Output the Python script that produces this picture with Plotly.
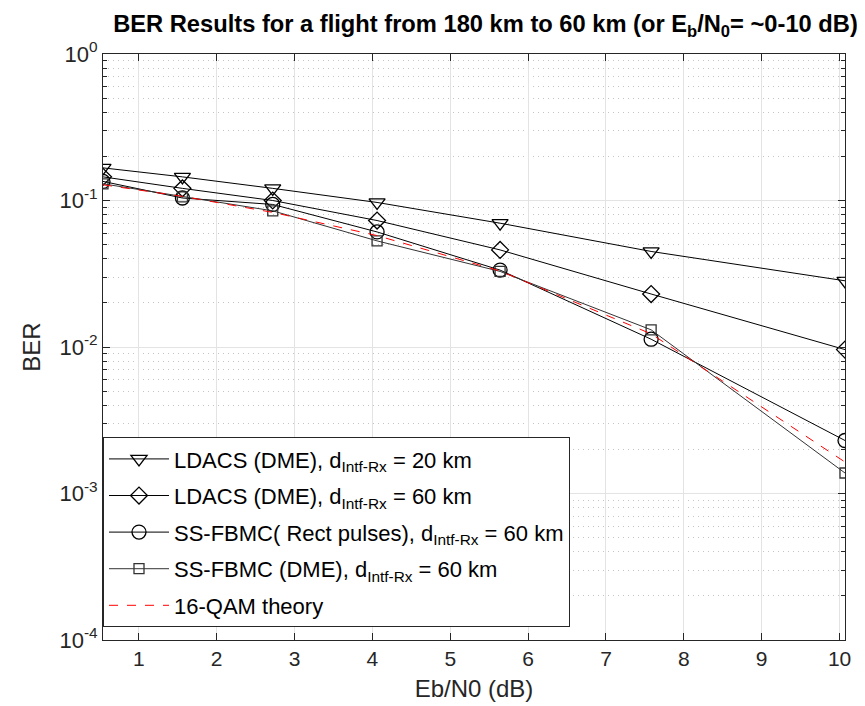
import plotly.graph_objects as go

# Eb/N0 points (dB)
ebn0 = [0.54, 1.56, 2.72, 4.06, 5.64, 7.58, 10.07]

ber_ldacs_20 = [0.167, 0.145, 0.121, 0.097, 0.070, 0.0449, 0.0283]
ber_ldacs_60 = [0.145, 0.121, 0.100, 0.073, 0.046, 0.0230, 0.0096]
ber_fbmc_rect = [0.135, 0.104, 0.094, 0.061, 0.0335, 0.0113, 0.0023]
ber_fbmc_dme = [0.130, 0.106, 0.085, 0.053, 0.0328, 0.0131, 0.00138]
ber_theory = [0.128, 0.1067, 0.083, 0.0576, 0.033, 0.0123, 0.00164]

names = [
    "LDACS (DME), d<sub>Intf-Rx</sub> = 20 km",
    "LDACS (DME), d<sub>Intf-Rx</sub> = 60 km",
    "SS-FBMC( Rect pulses), d<sub>Intf-Rx</sub> = 60 km",
    "SS-FBMC (DME), d<sub>Intf-Rx</sub> = 60 km",
    "16-QAM theory",
]

y_major = [1e-4, 1e-3, 1e-2, 1e-1, 1e0]
y_major_text = ["10<sup>-4</sup>", "10<sup>-3</sup>", "10<sup>-2</sup>", "10<sup>-1</sup>", "10<sup>0</sup>"]
x_ticks = [1, 2, 3, 4, 5, 6, 7, 8, 9, 10]

minor_vals = [k * 10.0 ** e for e in range(-4, 0) for k in range(2, 10)]

FONT = "Liberation Sans, Arial, Helvetica, sans-serif"

fig = go.Figure()

series = [
    (ber_ldacs_20, "triangle-down-open", 14, "#000000"),
    (ber_ldacs_60, "diamond-open", 13, "#000000"),
    (ber_fbmc_rect, "circle-open", 14, "#000000"),
    (ber_fbmc_dme, "square-open", 10, "#333333"),
]
for i, ((vals, sym, sz, col), nm) in enumerate(zip(series, names[:4])):
    fig.add_trace(go.Scatter(
        x=ebn0, y=vals, name=nm, mode="lines+markers", legendgroup=f"g{i}",
        line=dict(color=col, width=1),
        marker=dict(symbol=sym, size=sz, color=col, line=dict(width=1.3, color=col)),
    ))

fig.add_trace(go.Scatter(
    x=ebn0, y=ber_theory, name=names[4], mode="lines", legendgroup="g4",
    line=dict(color="#ff0000", width=1, dash="dash"),
))

fig.update_layout(
    width=865, height=706,
    margin=dict(l=95, r=28, t=46, b=74),
    paper_bgcolor="white", plot_bgcolor="white",
    font=dict(family=FONT, size=22, color="#262626"),
    title=dict(
        text="<b>BER Results for a flight from 180 km to 60 km (or E<sub>b</sub>/N<sub>0</sub>= ~0-10 dB)</b>",
        x=0.552, xref="container", xanchor="center",
        y=0.978, yref="container", yanchor="middle",
        font=dict(family=FONT, size=23.7, color="#000000"),
    ),
    showlegend=True,
    legend=dict(
        x=0.0, y=0.022, xanchor="left", yanchor="bottom",
        bgcolor="white", bordercolor="#262626", borderwidth=1,
        font=dict(family=FONT, size=22, color="#000000"),
        tracegroupgap=5, itemwidth=60,
    ),
)

fig.update_xaxes(
    range=[0.54, 10.07],
    tickvals=x_ticks,
    ticks="inside", ticklen=7, tickcolor="#262626", tickwidth=1,
    showline=True, linecolor="#262626", linewidth=1, mirror="allticks",
    showgrid=True, gridcolor="#e3e3e3", gridwidth=1,
    zeroline=False,
    tickfont=dict(size=21, color="#262626"),
    title=dict(text="Eb/N0 (dB)", font=dict(size=24, color="#262626"), standoff=10),
)

fig.update_yaxes(
    type="log", range=[-4, 0],
    tickmode="array", tickvals=y_major, ticktext=y_major_text,
    ticks="inside", ticklen=7, tickcolor="#262626", tickwidth=1,
    showline=True, linecolor="#262626", linewidth=1, mirror="allticks",
    showgrid=True, gridcolor="#e3e3e3", gridwidth=1,
    zeroline=False,
    tickfont=dict(size=22, color="#262626"),
    minor=dict(tickmode="array", tickvals=minor_vals, ticks="inside", ticklen=4,
               tickcolor="#262626", showgrid=True, gridcolor="#c4c4c4",
               griddash="1px,4px", gridwidth=1),
    title=dict(text="BER", font=dict(size=24, color="#262626"), standoff=12),
)

fig.write_html("out.html")
